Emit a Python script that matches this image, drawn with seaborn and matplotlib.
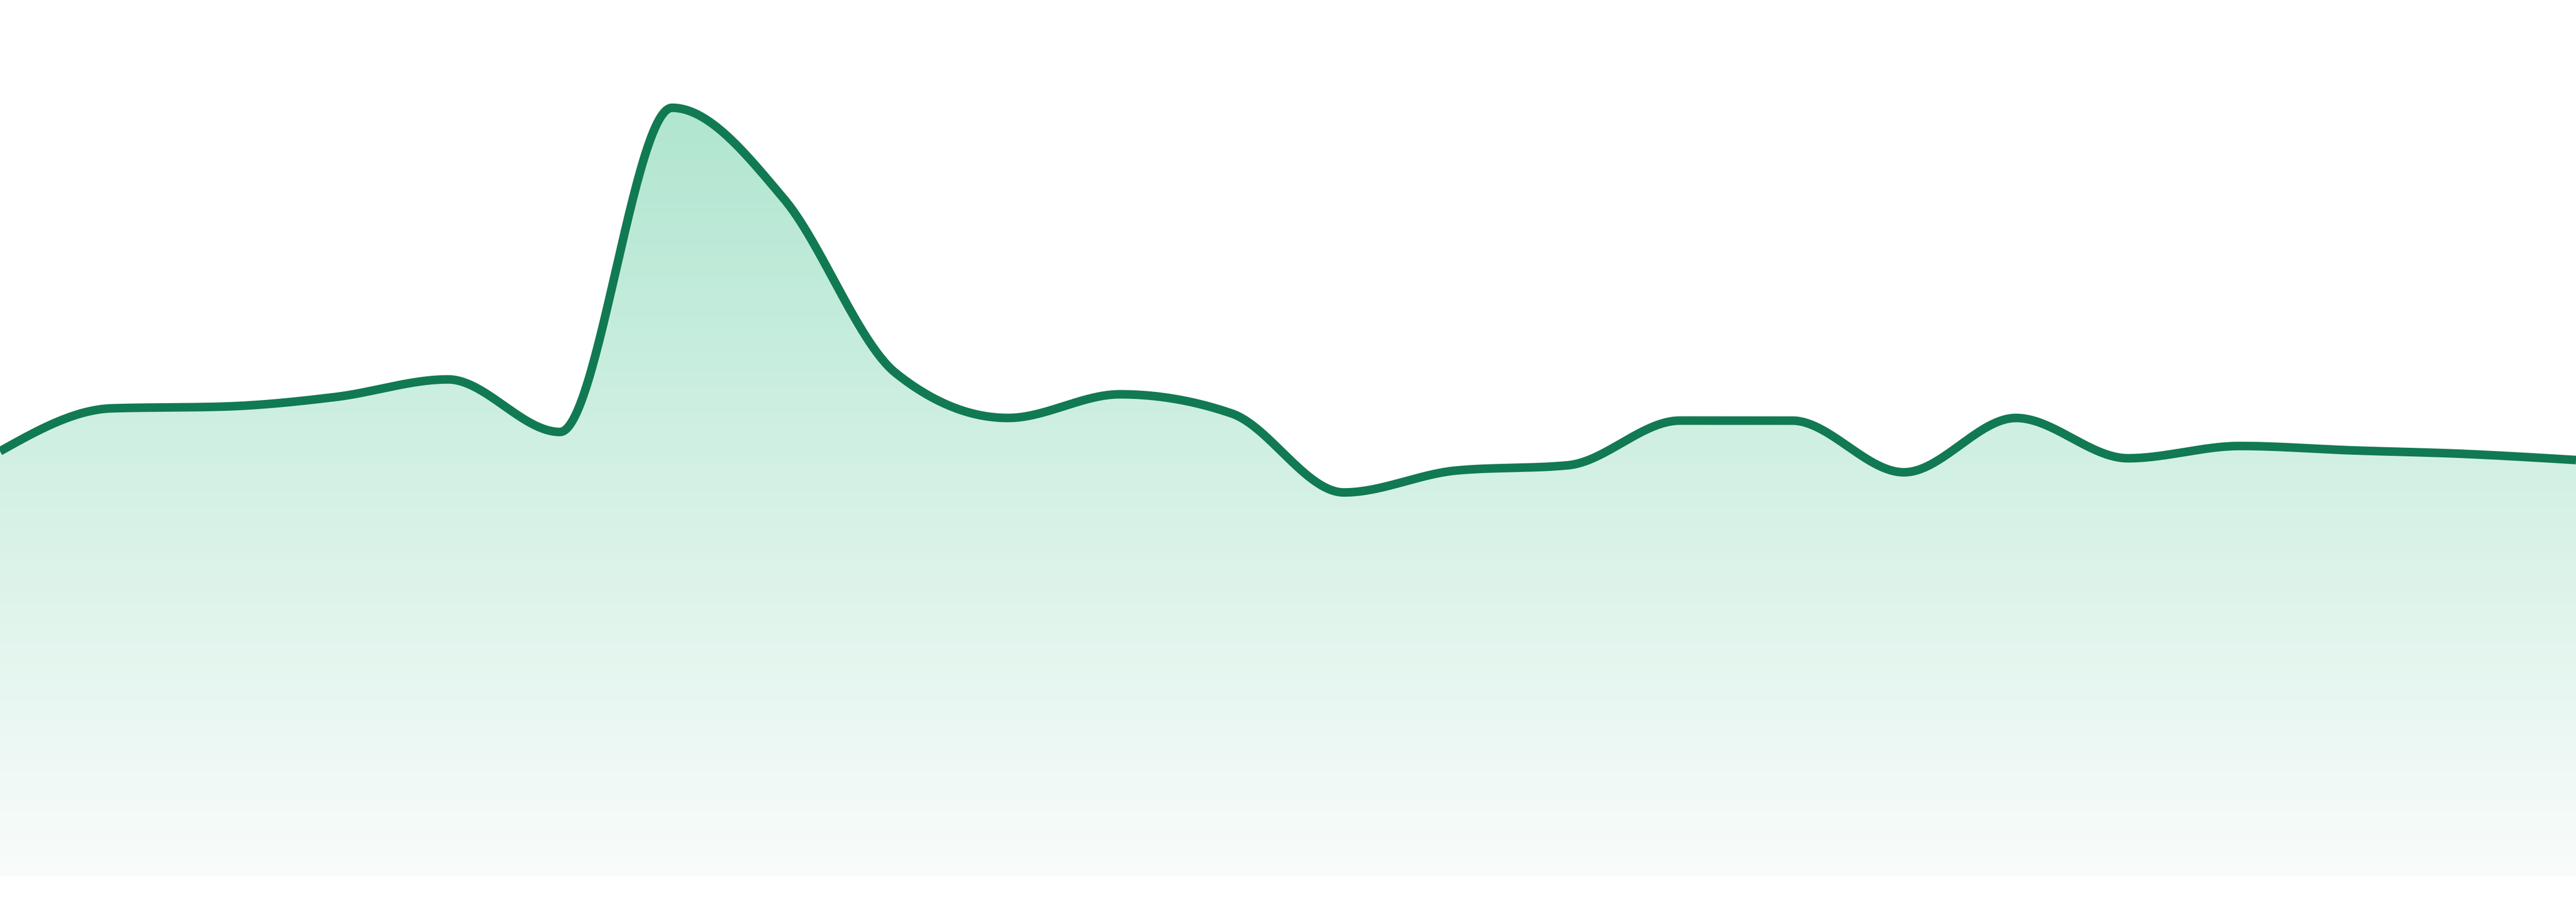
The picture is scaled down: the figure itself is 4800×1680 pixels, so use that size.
import numpy as np
import matplotlib
matplotlib.use("Agg")
import matplotlib.pyplot as plt
import seaborn as sns
import pandas as pd

# values (one point per step, 24 steps)
values = [48.5, 53.4, 53.6, 54.7, 56.7, 50.7, 87.7, 77.3, 57.4, 52.3, 55.0, 52.8,
          43.8, 46.3, 46.9, 52.0, 52.0, 46.1, 52.3, 47.7, 49.1, 48.6, 48.2, 47.5]
steps = list(range(len(values)))

LINE_COLOR = "#117a52"
TOP_COLOR = (176 / 255, 230 / 255, 208 / 255)
BOTTOM_COLOR = (249 / 255, 252 / 255, 251 / 255)


def monotone_curve(x, y, n=60):
    # same smoothing as d3.curveMonotoneX
    x = np.asarray(x, float)
    y = np.asarray(y, float)
    h = np.diff(x)
    s = np.diff(y) / h
    m = np.zeros_like(y)
    for i in range(1, len(y) - 1):
        h0, h1 = h[i - 1], h[i]
        s0, s1 = s[i - 1], s[i]
        p = (s0 * h1 + s1 * h0) / (h0 + h1)
        m[i] = (np.sign(s0) + np.sign(s1)) * min(abs(s0), abs(s1), 0.5 * abs(p))
    m[0] = (3 * s[0] - m[1]) / 2
    m[-1] = (3 * s[-1] - m[-2]) / 2
    xs, ys = [], []
    for i in range(len(y) - 1):
        t = np.linspace(0, 1, n, endpoint=(i == len(y) - 2))
        h00 = 2 * t**3 - 3 * t**2 + 1
        h10 = t**3 - 2 * t**2 + t
        h01 = -2 * t**3 + 3 * t**2
        h11 = t**3 - t**2
        xs.append(x[i] + t * h[i])
        ys.append(h00 * y[i] + h10 * h[i] * m[i] + h01 * y[i + 1] + h11 * h[i] * m[i + 1])
    return np.concatenate(xs), np.concatenate(ys)


cx, cy = monotone_curve(steps, values)
df = pd.DataFrame({"step": cx, "value": cy})

sns.set_theme(style="white")
fig = plt.figure(figsize=(48, 16.8), dpi=100)
ax = fig.add_axes([0, 48 / 1680, 1, 1632 / 1680])
ax.set_xlim(0, len(values) - 1)
ax.set_ylim(0, 100)
ax.axis("off")

# gradient fill under the curve
fill = ax.fill_between(df["step"], df["value"], 0, color="none", lw=0)
top = max(values)
grad = np.linspace(0, 1, 512)[:, None]
rgb = np.array(TOP_COLOR)[None, None, :] * (1 - grad[..., None]) + \
      np.array(BOTTOM_COLOR)[None, None, :] * grad[..., None]
img = ax.imshow(rgb, extent=[0, len(values) - 1, 0, top], origin="upper",
                aspect="auto", interpolation="bilinear", zorder=1)
img.set_clip_path(fill.get_paths()[0], transform=ax.transData)

sns.lineplot(data=df, x="step", y="value", sort=False, estimator=None,
             color=LINE_COLOR, linewidth=11.5, ax=ax, zorder=2)
ax.lines[-1].set_solid_joinstyle("round")
ax.lines[-1].set_solid_capstyle("butt")
ax.set_xlim(0, len(values) - 1)
ax.set_ylim(0, 100)

fig.savefig("out.png", dpi=100, facecolor="white")
